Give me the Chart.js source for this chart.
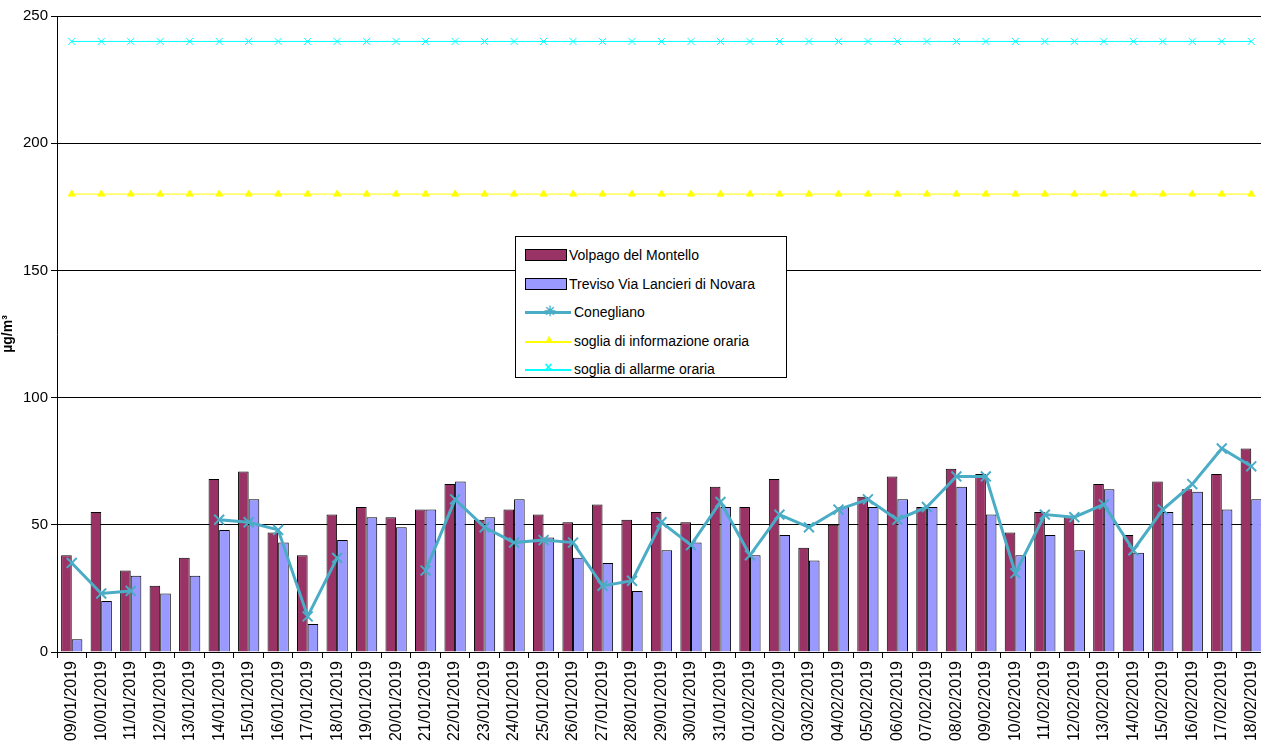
<!DOCTYPE html>
<html>
<head>
<script src="https://cdn.jsdelivr.net/npm/chart.js"></script>
<style>
body{margin:0;overflow:hidden;background:#fff;font-family:"Liberation Sans",Arial,sans-serif}
#wrap{position:relative;width:1275px;height:800px}
#legend{position:absolute;left:515px;top:236px;width:272px;height:142px;border:1px solid #000;background:#fff;font-size:14px;box-sizing:border-box;padding-top:4px}
#legend div{height:28.5px;display:flex;align-items:center}
#legend span.s{display:inline-block;width:46px;height:12px;margin:0 3px 0 9px;position:relative}
</style>
</head>
<body>
<div id="wrap">
<canvas id="c" width="1275" height="800"></canvas>
<div id="legend">
 <div><span class="s" style="width:40px;margin-right:2px;background:#993366;border:1px solid #000;height:10px"></span>Volpago del Montello</div>
 <div><span class="s" style="width:40px;margin-right:2px;background:#9999ff;border:1px solid #000;height:10px"></span>Treviso Via Lancieri di Novara</div>
 <div><span class="s"><i style="position:absolute;left:0;right:0;top:5px;height:3px;background:#4bacc6"></i><b style="position:absolute;left:19px;top:-3px;color:#4bacc6;font-size:14px">✳</b></span>Conegliano</div>
 <div><span class="s"><i style="position:absolute;left:0;right:0;top:6px;height:2px;background:#ffff00"></i><b style="position:absolute;left:18px;top:-4px;color:#ffff00;font-size:13px">▲</b></span>soglia di informazione oraria</div>
 <div><span class="s"><i style="position:absolute;left:0;right:0;top:6px;height:2px;background:#00ffff"></i><b style="position:absolute;left:19px;top:-4px;color:#00ffff;font-size:14px">×</b></span>soglia di allarme oraria</div>
</div>
</div>
<script>
const labels = ['09/01/2019','10/01/2019','11/01/2019','12/01/2019','13/01/2019','14/01/2019','15/01/2019','16/01/2019','17/01/2019','18/01/2019','19/01/2019','20/01/2019','21/01/2019','22/01/2019','23/01/2019','24/01/2019','25/01/2019','26/01/2019','27/01/2019','28/01/2019','29/01/2019','30/01/2019','31/01/2019','01/02/2019','02/02/2019','03/02/2019','04/02/2019','05/02/2019','06/02/2019','07/02/2019','08/02/2019','09/02/2019','10/02/2019','11/02/2019','12/02/2019','13/02/2019','14/02/2019','15/02/2019','16/02/2019','17/02/2019','18/02/2019'];
const volpago = [38,55,32,26,37,68,71,47,38,54,57,53,56,66,52,56,54,51,58,52,55,51,65,57,68,41,50,61,69,57,72,70,47,55,53,66,46,67,64,70,80];
const treviso = [5,20,30,23,30,48,60,43,11,44,53,49,56,67,53,60,45,37,35,24,40,43,57,38,46,36,57,57,60,57,65,54,38,46,40,64,39,55,63,56,60];
const conegliano = [35,23,24,null,null,52,51,48,14,37,null,null,32,60,49,43,44,43,26,28,51,42,59,38,54,49,56,60,52,57,69,69,31,54,53,58,40,56,66,80,73];
const sogliaInfo = labels.map(() => 180);
const sogliaAllarme = labels.map(() => 240);

new Chart(document.getElementById('c'), {
  type: 'bar',
  data: {
    labels: labels,
    datasets: [
      {type:'line', data: sogliaAllarme, borderColor:'#00ffff', borderWidth:1, pointStyle:'cross', rotation:45, pointRadius:5, pointBorderColor:'#00ffff', pointBorderWidth:1, order:0},
      {type:'line', data: sogliaInfo, borderColor:'#ffff00', borderWidth:1, pointStyle:'triangle', pointRadius:4, pointBackgroundColor:'#ffff00', pointBorderColor:'#ffff00', order:0},
      {type:'line', data: conegliano, borderColor:'#4bacc6', borderWidth:3, spanGaps:false, pointStyle:'crossRot', pointRadius:7, pointBorderColor:'#4bacc6', pointBorderWidth:2, order:0},
      {data: volpago, backgroundColor:'#993366', borderColor:'#000', borderWidth:1, categoryPercentage:0.72, barPercentage:1, order:1},
      {data: treviso, backgroundColor:'#9999ff', borderColor:'#000', borderWidth:1, categoryPercentage:0.72, barPercentage:1, order:1}
    ]
  },
  options: {
    responsive:false, animation:false,
    layout:{padding:{top:16,right:0,left:0,bottom:0}},
    plugins:{legend:{display:false}, tooltip:{enabled:false}},
    scales:{
      x:{afterFit: s => { s.height = 148; },
         grid:{display:true, drawOnChartArea:false, color:'#000', tickLength:6, offset:true}, border:{color:'#000'},
         ticks:{color:'#000', font:{family:'Liberation Sans', size:16}, minRotation:90, maxRotation:90, autoSkip:false}},
      y:{min:0, max:250, afterFit: s => { s.width = 57; },
         ticks:{stepSize:50, color:'#000', font:{family:'Liberation Sans', size:15}},
         grid:{color:'#000', tickLength:6}, border:{color:'#000'},
         title:{display:true, text:'µg/m³', color:'#000', font:{family:'Liberation Sans', size:14, weight:'bold'}, padding:0}}
    }
  }
});
</script>
</body>
</html>
